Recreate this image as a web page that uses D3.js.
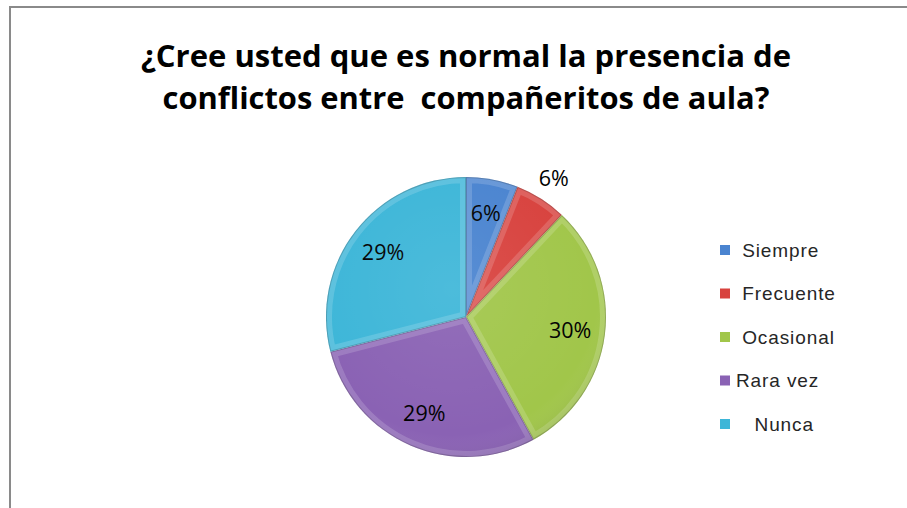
<!DOCTYPE html>
<html>
<head>
<meta charset="utf-8">
<script src="https://cdn.jsdelivr.net/npm/d3@7/dist/d3.min.js"></script>
<style>
  body { margin: 0; background: #fff; }
  svg { display: block; }
</style>
</head>
<body>
<svg id="chart"></svg>
<script>
// data
var categories = ["Siempre", "Frecuente", "Ocasional", "Rara vez", "Nunca"];
var legendLabels = [" Siempre", " Frecuente", " Ocasional", "Rara vez", "   Nunca"];
var values = [6, 6, 30, 29, 29];
var colors = ["#4a84d0", "#d8423e", "#a1c64a", "#8a62b4", "#3db6d8"];
var titleLines = ["¿Cree usted que es normal la presencia de", "conflictos entre  compañeritos de aula?"];

var width = 907, height = 508;
var cx = 466, cy = 317, radius = 140;

var svg = d3.select("#chart").attr("width", width).attr("height", height);

// frame of the chart area (runs off the right and bottom edge)
svg.append("rect")
    .attr("x", 10).attr("y", 7)
    .attr("width", 920).attr("height", 520)
    .attr("fill", "#fff")
    .attr("stroke", "#8a8a8a")
    .attr("stroke-width", 2);

//title, two lines
var titleWidths = [650, 607];
svg.append("g").selectAll("text")
    .data(titleLines)
    .enter()
    .append("text")
    .attr("x", 466)
    .attr("y", function(d, i){ return 67 + i * 42; })
    .attr("text-anchor", "middle")
    .attr("textLength", function(d, i){ return titleWidths[i]; })
    .attr("lengthAdjust", "spacingAndGlyphs")
    .style("font-family", "'Open Sans', Lato, sans-serif")
    .style("font-weight", "bold")
    .style("font-size", "31px")
    .style("white-space", "pre")
    .style("fill", "#000")
    .text(function(d){ return d; });

var pie = d3.pie().sort(null).value(function(d){ return d; });
var arcs = pie(values);
var arc = d3.arc().innerRadius(0).outerRadius(radius);
var labelArc = d3.arc().innerRadius(radius * 0.75).outerRadius(radius * 0.75);
var outerLabelArc = d3.arc().innerRadius(radius * 1.17).outerRadius(radius * 1.17);

var defs = svg.append("defs");
arcs.forEach(function(d, i){
    defs.append("clipPath").attr("id", "clip" + i)
        .append("path").attr("d", arc(d));
});

// soft shading across the whole pie
var grad = defs.append("radialGradient").attr("id", "shade")
    .attr("cx", "45%").attr("cy", "40%").attr("r", "65%");
grad.append("stop").attr("offset", "0%").attr("stop-color", "#fff").attr("stop-opacity", 0.08);
grad.append("stop").attr("offset", "80%").attr("stop-color", "#fff").attr("stop-opacity", 0);
grad.append("stop").attr("offset", "100%").attr("stop-color", "#000").attr("stop-opacity", 0.12);

var pieG = svg.append("g").attr("transform", "translate(" + cx + "," + cy + ")");

var slices = pieG.selectAll("g.slice")
    .data(arcs)
    .enter()
    .append("g")
    .attr("class", "slice");

slices.append("path")
    .attr("d", arc)
    .attr("fill", function(d, i){ return colors[i]; });

// bevel: light inner rim clipped to each slice
slices.append("path")
    .attr("d", arc)
    .attr("clip-path", function(d, i){ return "url(#clip" + i + ")"; })
    .attr("fill", "none")
    .attr("stroke", "#fff")
    .attr("stroke-opacity", 0.16)
    .attr("stroke-width", 12);

slices.append("path")
    .attr("d", arc)
    .attr("clip-path", function(d, i){ return "url(#clip" + i + ")"; })
    .attr("fill", "none")
    .attr("stroke", "#000")
    .attr("stroke-opacity", 0.18)
    .attr("stroke-width", 2);

pieG.append("circle")
    .attr("r", radius)
    .attr("fill", "url(#shade)");

// percentage labels
slices.append("text")
    .attr("transform", function(d, i){
        var p = i == 1 ? outerLabelArc.centroid(d) : labelArc.centroid(d);
        return "translate(" + p[0] + "," + p[1] + ")";
    })
    .attr("text-anchor", "middle")
    .attr("dy", "0.35em")
    .style("font-family", "'Open Sans', Arial, sans-serif")
    .style("font-size", "21.5px")
    .style("fill", "#000")
    .text(function(d){ return d.data + "%"; });

// legend
var legend = svg.append("g").attr("transform", "translate(720,250)");
var item = legend.selectAll("g")
    .data(categories)
    .enter()
    .append("g")
    .attr("transform", function(d, i){ return "translate(0," + (i * 43.5) + ")"; });

item.append("rect")
    .attr("x", 0).attr("y", -5)
    .attr("width", 10).attr("height", 10)
    .attr("fill", function(d, i){ return colors[i]; });

item.append("text")
    .attr("x", 16)
    .attr("dy", "0.35em")
    .style("font-family", "'Liberation Sans', Arial, sans-serif")
    .style("font-size", "19px")
    .style("letter-spacing", "0.9px")
    .style("white-space", "pre")
    .style("fill", "#262626")
    .text(function(d, i){ return legendLabels[i]; });
</script>
</body>
</html>
